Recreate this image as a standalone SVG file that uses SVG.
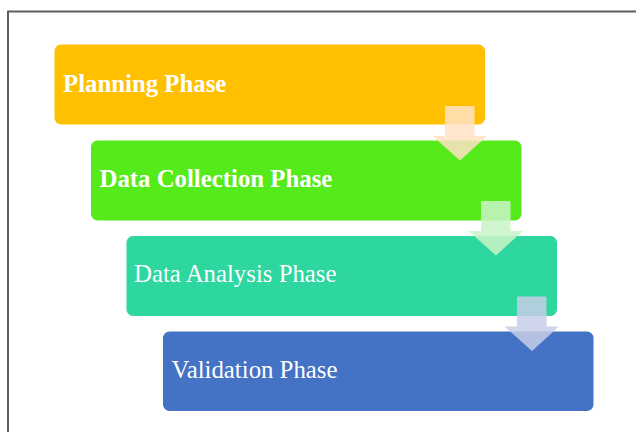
<svg xmlns="http://www.w3.org/2000/svg" width="636" height="432" viewBox="0 0 636 432">
  <style>
    .box { stroke: none; }
    .label { font-family: "Liberation Serif", "Times New Roman", serif; font-size: 24.8px; fill: #ffffff; }
    .bold { font-weight: bold; }
    .arrow { stroke: none; opacity: 0.85; }
  </style>
  <defs>
    <!-- down arrow shape, shaft top-left at origin -->
    <path id="down" d="M0,0 H29.5 V30 H42 L15,54.5 L-12.5,30 H0 Z"/>
  </defs>

  <rect width="636" height="432" fill="#ffffff"/>
  <!-- frame -->
  <rect x="8" y="11.5" width="640" height="440" fill="none" stroke="#5f5f5f" stroke-width="2"/>

  <g id="planning">
    <rect class="box" x="54.5" y="44.5" width="430.5" height="80" rx="6.5" fill="#FFC000"/>
    <text class="label bold" x="63" y="91.5">Planning Phase</text>
  </g>
  <g id="collection">
    <rect class="box" x="91" y="140.5" width="430.5" height="80" rx="6.5" fill="#55EA1A"/>
    <text class="label bold" x="99.5" y="187">Data Collection Phase</text>
  </g>
  <g id="analysis">
    <rect class="box" x="126.5" y="236" width="430.5" height="80" rx="6.5" fill="#2ED6A0"/>
    <text class="label" x="134" y="282">Data Analysis Phase</text>
  </g>
  <g id="validation">
    <rect class="box" x="163" y="331.5" width="430.5" height="79.5" rx="6.5" fill="#4472C4"/>
    <text class="label" x="171.5" y="377.5">Validation Phase</text>
  </g>

  <g id="connectors">
    <use href="#down" x="445" y="106" class="arrow" fill="#FFE2C4"/>
    <use href="#down" x="481" y="201" class="arrow" fill="#C9F4C7"/>
    <use href="#down" x="517" y="296.5" class="arrow" fill="#C7CEE6"/>
  </g>
</svg>
